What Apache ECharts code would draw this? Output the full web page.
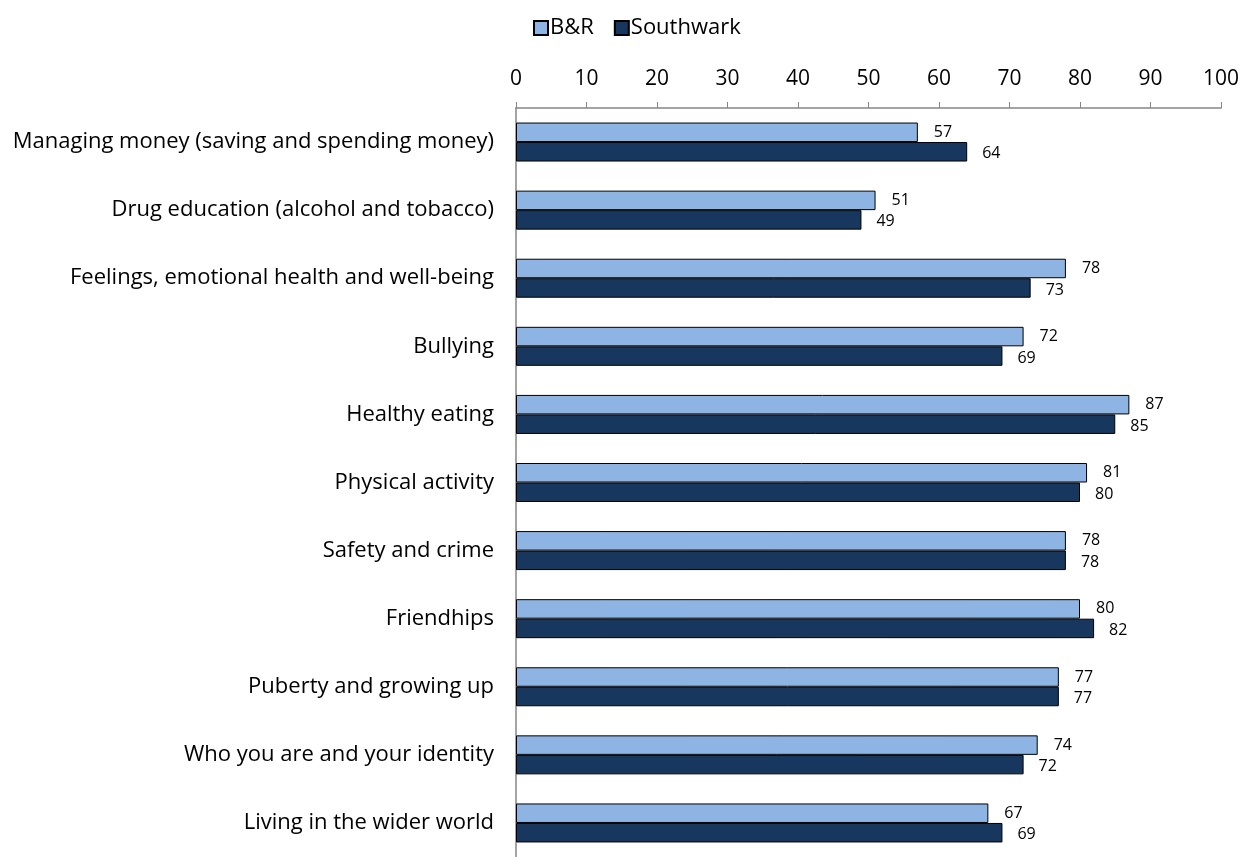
<!DOCTYPE html>
<html><head><meta charset="utf-8">
<script src="https://cdn.jsdelivr.net/npm/echarts@6/dist/echarts.min.js"></script>
<style>html,body{margin:0;padding:0;background:#fff}#c{width:1244px;height:857px}</style>
</head><body><div id="c"></div>
<script>
const categories = ["Managing money (saving and spending money)","Drug education (alcohol and tobacco)","Feelings, emotional health and well-being","Bullying","Healthy eating","Physical activity","Safety and crime","Friendhips","Puberty and growing up","Who you are and your identity","Living in the wider world"];
const brValues = [57,51,78,72,87,81,78,80,77,74,67];
const southwarkValues = [64,49,73,69,85,80,78,82,77,72,69];
const seriesNames = ["B&R","Southwark"];
const FONT = "'Open Sans', Lato, sans-serif";
const chart = echarts.init(document.getElementById('c'), null, {renderer:'canvas'});
chart.setOption({
  animation:false,
  legend:{top:12,left:528,itemWidth:14,itemHeight:14,itemGap:20,icon:'rect',
    textStyle:{fontFamily:FONT,fontSize:22,color:'#000',padding:[0,0,0,-3]},
    data:seriesNames},
  grid:{left:516,right:23,top:108,height:757,containLabel:false},
  xAxis:{type:'value',position:'top',min:0,max:100,interval:10,
    axisLine:{show:true,lineStyle:{color:'#868686',width:1.5}},
    axisTick:{show:true,length:6,lineStyle:{color:'#868686'}},
    axisLabel:{fontFamily:FONT,fontSize:21,color:'#000',margin:18},
    splitLine:{show:false}},
  yAxis:{type:'category',inverse:true,data:categories,
    axisLine:{show:true,lineStyle:{color:'#868686',width:1.5}},
    axisTick:{show:false},
    axisLabel:{fontFamily:FONT,fontSize:22,color:'#000',margin:22}},
  series:[
    {name:seriesNames[0],type:'bar',data:brValues,barWidth:19.5,barGap:'0%',
     itemStyle:{color:'#8EB4E3',borderColor:'#000',borderWidth:1},
     label:{show:true,position:'right',distance:16,fontFamily:FONT,fontSize:16,color:'#000',offset:[0,0]}},
    {name:seriesNames[1],type:'bar',data:southwarkValues,barWidth:19.5,barGap:'0%',
     itemStyle:{color:'#17375E',borderColor:'#000',borderWidth:1},
     label:{show:true,position:'right',distance:15,fontFamily:FONT,fontSize:16,color:'#000',offset:[0,2]}}
  ]
});
</script></body></html>
